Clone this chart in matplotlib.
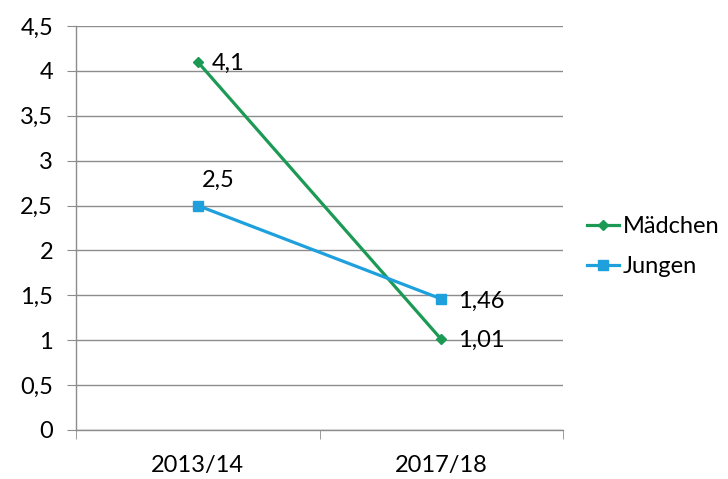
import matplotlib.pyplot as plt
from matplotlib.ticker import FuncFormatter, FixedLocator

plt.rcParams['font.family'] = ['Lato', 'DejaVu Sans']

# Daten
jahre = ['2013/14', '2017/18']
maedchen = [4.1, 1.01]
jungen = [2.5, 1.46]
labels_maedchen = ['4,1', '1,01']
labels_jungen = ['2,5', '1,46']

gruen = '#1c9a55'
blau = '#1ea0dd'
grau = '#8c8c8c'
fs = 17

fig = plt.figure(figsize=(7.28, 4.79), dpi=100)
ax = fig.add_axes([0.1044, 0.1023, 0.6690, 0.8434])

x = range(len(jahre))
ax.plot(x, maedchen, color=gruen, lw=2.3, marker='D', ms=5.5, label='Mädchen', zorder=3)
ax.plot(x, jungen, color=blau, lw=2.3, marker='s', ms=7, label='Jungen', zorder=3)

# Beschriftungen der Punkte
ax.annotate(labels_maedchen[0], (0, maedchen[0]), xytext=(10, -1), textcoords='offset points',
            va='center', ha='left', fontsize=fs)
ax.annotate(labels_maedchen[1], (1, maedchen[1]), xytext=(12, -1), textcoords='offset points',
            va='center', ha='left', fontsize=fs)
ax.annotate(labels_jungen[0], (0, jungen[0]), xytext=(14.5, 18), textcoords='offset points',
            va='center', ha='center', fontsize=fs)
ax.annotate(labels_jungen[1], (1, jungen[1]), xytext=(12, -2), textcoords='offset points',
            va='center', ha='left', fontsize=fs)

ax.set_xlim(-0.5, 1.5)
ax.set_ylim(0, 4.5)
ax.set_yticks([i * 0.5 for i in range(10)])
ax.yaxis.set_major_formatter(FuncFormatter(lambda v, p: ('%g' % v).replace('.', ',')))
ax.set_xticks(list(x))
ax.set_xticklabels(jahre)
ax.xaxis.set_minor_locator(FixedLocator([-0.5, 0.5, 1.5]))

ax.grid(axis='y', color=grau, lw=1)
ax.set_axisbelow(True)
for s in ['top', 'right']:
    ax.spines[s].set_visible(False)
for s in ['left', 'bottom']:
    ax.spines[s].set_color(grau)
    ax.spines[s].set_linewidth(1)

ax.tick_params(axis='y', length=6.5, color=grau, labelsize=fs, pad=10)
ax.tick_params(axis='x', which='major', length=0, labelsize=fs, pad=18)
ax.tick_params(axis='x', which='minor', length=6.5, color=grau)

fig.legend(loc='center left', bbox_to_anchor=(0.777, 0.4854), frameon=False, fontsize=fs,
           handlelength=1.35, handletextpad=0.17, labelspacing=0.8)

fig.savefig('out.png', dpi=100)
